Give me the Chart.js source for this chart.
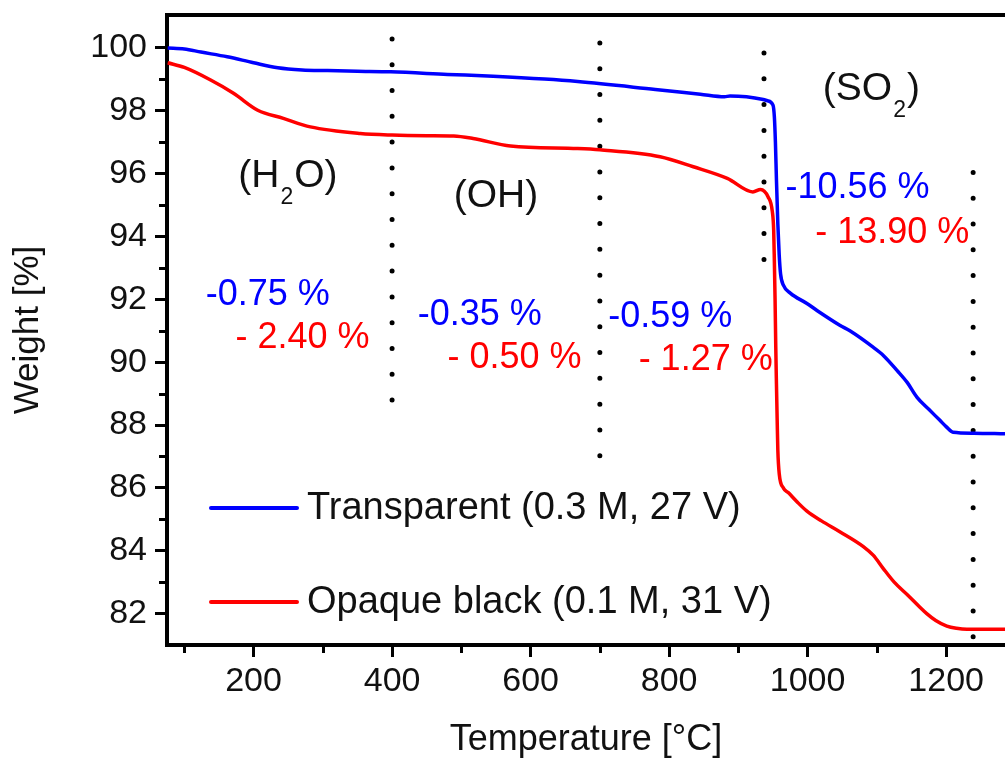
<!DOCTYPE html>
<html>
<head>
<meta charset="utf-8">
<script src="https://cdn.jsdelivr.net/npm/chart.js@4.4.0/dist/chart.umd.min.js"></script>
<style>
  html, body { margin: 0; padding: 0; background: #fff; }
  canvas { display: block; }
</style>
</head>
<body>
<canvas id="tga" width="1005" height="758"></canvas>
<script>
// TGA curves: temperature [°C] and weight [%]
const tempTransparent = [76, 100, 124, 162, 200, 235, 270, 307, 350, 398, 480, 546, 620, 668, 780, 845, 880, 888, 936, 942, 950,
    952, 953.5, 955, 957, 959, 961, 965, 975, 999, 1014, 1047, 1061, 1095, 1110, 1129, 1144, 1158, 1175, 1191, 1200, 1210, 1240, 1285];
const weightTransparent = [100.0, 99.97, 99.87, 99.72, 99.53, 99.37, 99.3, 99.28, 99.26, 99.24, 99.16, 99.1, 99.01, 98.93, 98.68, 98.53, 98.45, 98.47, 98.36, 98.32, 98.18,
    97.8, 97.0, 95.8, 94.4, 93.4, 92.8, 92.45, 92.2, 91.87, 91.64, 91.17, 91.0, 90.47, 90.2, 89.74, 89.35, 88.88, 88.5, 88.15, 87.95, 87.77, 87.74, 87.72];

const tempOpaque = [76, 100, 138, 171, 206, 243, 282, 354, 400, 450, 489, 517, 571, 668, 700, 787, 835, 884, 921, 932, 943,
    949, 951, 952, 953, 954, 955, 956, 957, 959, 965, 972, 985, 999, 1020, 1047, 1080, 1095, 1109, 1125, 1144, 1160, 1172, 1185, 1201, 1215, 1230, 1285];
const weightOpaque = [99.53, 99.38, 98.98, 98.56, 98.02, 97.76, 97.49, 97.28, 97.23, 97.21, 97.2, 97.12, 96.88, 96.8, 96.76, 96.54, 96.22, 95.85, 95.42, 95.5, 95.26,
    94.8, 94.2, 93.2, 92.0, 90.5, 89.3, 88.2, 87.2, 86.45, 86.0, 85.85, 85.55, 85.26, 84.95, 84.6, 84.14, 83.85, 83.44, 83.0, 82.6, 82.25, 82.0, 81.78, 81.6, 81.53, 81.5, 81.5];

// dotted stage boundaries: temperature, top and bottom weight
const stageTemps = [400, 700, 937, 1239];
const stageTop = [100.29, 100.16, 99.84, 96.04];
const stageBottom = [88.75, 86.95, 93.17, 81.2];

// axis ticks
const xTickValues = [200, 400, 600, 800, 1000, 1200];
const xMinorValues = [100, 300, 500, 700, 900, 1100];
const yTickValues = [82, 84, 86, 88, 90, 92, 94, 96, 98, 100];
const yMinorValues = [83, 85, 87, 89, 91, 93, 95, 97, 99];

// text in the plot, anchored at (temperature, weight); "_" marks a subscript digit
const stageNames = ['(H_2O)', '(OH)', '(SO_2)'];
const stageNameAt = [[178, 95.57], [489, 94.93], [1022, 98.34]];
const lossTransparent = ['-0.75 %', '-0.35 %', '-0.59 %', '-10.56 %'];
const lossTransparentAt = [[131, 91.81], [437, 91.18], [712, 91.11], [968, 95.22]];
const lossOpaque = ['- 2.40 %', '- 0.50 %', '- 1.27 %', '- 13.90 %'];
const lossOpaqueAt = [[174, 90.44], [480, 89.81], [756, 89.74], [1011, 93.79]];

const FONT = '"Liberation Sans", Arial, sans-serif';
const BLUE = '#0000ff';
const RED = '#ff0000';

function toPoints(xs, ys) {
    return xs.map((v, i) => ({x: v, y: ys[i]}));
}

let datasets = [
    {
        label: 'Transparent (0.3 M, 27 V)',
        data: toPoints(tempTransparent, weightTransparent),
        borderColor: BLUE,
        borderWidth: 3.5,
        cubicInterpolationMode: 'monotone',
        inLegend: true
    },
    {
        label: 'Opaque black (0.1 M, 31 V)',
        data: toPoints(tempOpaque, weightOpaque),
        borderColor: RED,
        borderWidth: 3.5,
        cubicInterpolationMode: 'monotone',
        inLegend: true
    }
];

for (let i = 0; i < stageTemps.length; i++) {
    datasets.push({
        label: 'stage ' + (i + 1),
        data: [{x: stageTemps[i], y: stageTop[i]}, {x: stageTemps[i], y: stageBottom[i]}],
        borderColor: '#000',
        borderWidth: 5,
        borderDash: [0, 25.8],
        borderCapStyle: 'round',
        tension: 0
    });
}

function drawRich(ctx, text, px, py, size) {
    // draws "(SO_2)" style text with the digit after "_" as a subscript
    let parts = text.split('_');
    let cx = px;
    ctx.textAlign = 'left';
    ctx.textBaseline = 'alphabetic';
    parts.forEach((p, i) => {
        let main = p;
        if (i > 0) {
            ctx.font = Math.round(size * 0.6) + 'px ' + FONT;
            ctx.fillText(p[0], cx + 1, py + size * 0.42);
            cx += ctx.measureText(p[0]).width + 2;
            main = p.slice(1);
        }
        ctx.font = size + 'px ' + FONT;
        ctx.fillText(main, cx, py);
        cx += ctx.measureText(main).width;
    });
}

const overlay = {
    id: 'overlay',
    afterDraw(chart) {
        const {ctx, chartArea, scales: {x, y}} = chart;
        ctx.save();

        // top frame
        ctx.strokeStyle = '#000';
        ctx.lineWidth = 4;
        ctx.beginPath();
        ctx.moveTo(chartArea.left - 2, chartArea.top);
        ctx.lineTo(chartArea.right, chartArea.top);
        ctx.stroke();

        // minor ticks
        ctx.lineWidth = 3;
        ctx.beginPath();
        xMinorValues.forEach(v => {
            let px = Math.round(x.getPixelForValue(v)) + 0.5;
            ctx.moveTo(px, chartArea.bottom);
            ctx.lineTo(px, chartArea.bottom + 8);
        });
        yMinorValues.forEach(v => {
            let py = Math.round(y.getPixelForValue(v)) + 0.5;
            ctx.moveTo(chartArea.left, py);
            ctx.lineTo(chartArea.left - 8, py);
        });
        ctx.stroke();

        // stage names and weight losses
        ctx.fillStyle = '#111';
        stageNames.forEach((t, i) => {
            drawRich(ctx, t, x.getPixelForValue(stageNameAt[i][0]), y.getPixelForValue(stageNameAt[i][1]), 39);
        });
        ctx.fillStyle = BLUE;
        lossTransparent.forEach((t, i) => {
            drawRich(ctx, t, x.getPixelForValue(lossTransparentAt[i][0]), y.getPixelForValue(lossTransparentAt[i][1]), 36);
        });
        ctx.fillStyle = RED;
        lossOpaque.forEach((t, i) => {
            drawRich(ctx, t, x.getPixelForValue(lossOpaqueAt[i][0]), y.getPixelForValue(lossOpaqueAt[i][1]), 36);
        });

        // legend inside the plot
        let items = chart.data.datasets.filter(d => d.inLegend);
        items.forEach((d, i) => {
            let ly = 508 + i * 94;
            ctx.strokeStyle = d.borderColor;
            ctx.lineWidth = 4;
            ctx.lineCap = 'round';
            ctx.beginPath();
            ctx.moveTo(211, ly);
            ctx.lineTo(297, ly);
            ctx.stroke();
            ctx.fillStyle = '#111';
            ctx.font = '38px ' + FONT;
            ctx.textAlign = 'left';
            ctx.textBaseline = 'middle';
            ctx.fillText(d.label, 307, ly + 1);
        });

        ctx.restore();
    }
};

let axisGrid = {
    drawOnChartArea: false,
    drawTicks: true,
    tickLength: 12,
    tickWidth: 3,
    tickColor: '#000'
};

function noPadding(scale) {
    scale.paddingTop = 0;
    scale.paddingBottom = 0;
    scale.paddingLeft = 0;
    scale.paddingRight = 0;
}

let config = {
    type: 'line',
    data: {datasets: datasets},
    options: {
        responsive: false,
        animation: false,
        devicePixelRatio: 1,
        layout: {padding: {top: 15, right: 0, bottom: 0, left: 0}},
        elements: {point: {radius: 0}},
        plugins: {
            legend: {display: false},
            tooltip: {enabled: false}
        },
        scales: {
            x: {
                type: 'linear',
                min: 75,
                max: 1285,
                afterBuildTicks: (scale) => { scale.ticks = xTickValues.map(v => ({value: v})); },
                afterFit: (scale) => { scale.height = 113; noPadding(scale); },
                ticks: {
                    color: '#111',
                    font: {family: FONT, size: 34},
                    padding: 4,
                    maxRotation: 0,
                    callback: (v) => String(v)
                },
                grid: axisGrid,
                border: {display: true, width: 4, color: '#000'},
                title: {
                    display: true,
                    text: 'Temperature [°C]',
                    color: '#111',
                    font: {family: FONT, size: 36, lineHeight: 1},
                    padding: {top: 0, bottom: 0}
                }
            },
            y: {
                min: 81,
                max: 101.05,
                afterBuildTicks: (scale) => { scale.ticks = yTickValues.map(v => ({value: v})); },
                afterFit: (scale) => { scale.width = 167; noPadding(scale); },
                ticks: {
                    color: '#111',
                    font: {family: FONT, size: 34},
                    padding: 8,
                    callback: (v) => String(v)
                },
                grid: axisGrid,
                border: {display: true, width: 4, color: '#000'},
                title: {
                    display: true,
                    text: 'Weight [%]',
                    color: '#111',
                    font: {family: FONT, size: 35, lineHeight: 1},
                    padding: {top: 11, bottom: 0}
                }
            }
        }
    },
    plugins: [overlay]
};

let ctx = document.getElementById('tga').getContext('2d');
window.tgaChart = new Chart(ctx, config);
</script>
</body>
</html>
